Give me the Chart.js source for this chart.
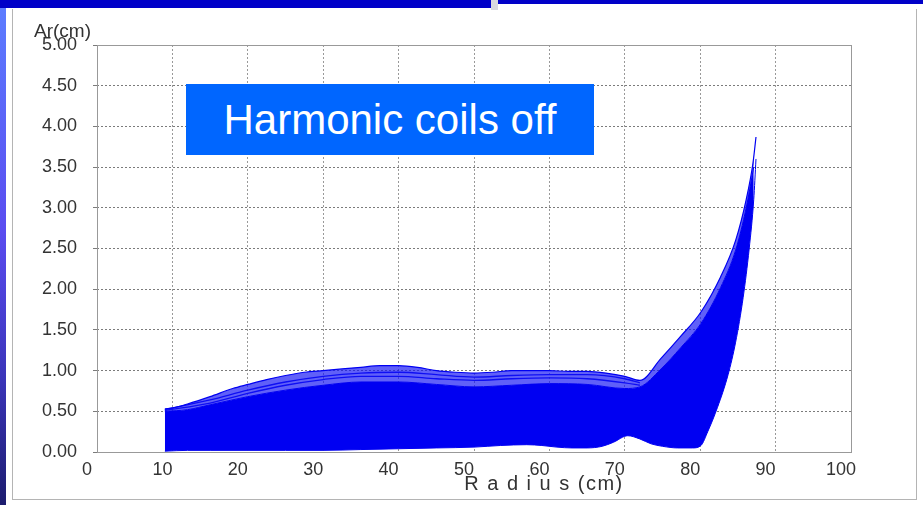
<!DOCTYPE html>
<html lang="en">
<head>
    <meta charset="UTF-8">
    <title>Harmonic coils off</title>
    <script src="https://cdn.jsdelivr.net/npm/chart.js"></script>
    <style>
        body {
            margin: 0;
            background: #fff;
            font-family: "Liberation Sans", Arial, sans-serif;
        }
        #wrap {
            position: relative;
            width: 923px;
            height: 505px;
            overflow: hidden;
            background: #fff;
        }
        #grafica {
            position: absolute;
            left: 0; top: 0;
        }
        .barraArriba1 { position: absolute; left: 0; top: 0; width: 491px; height: 8px; background: #0000c8; }
        .barraArriba2 { position: absolute; left: 498px; top: 0; width: 425px; height: 4px; background: #0000c8; }
        .separador { position: absolute; left: 491px; top: 0; width: 7px; height: 10px; background: #d8d8e0; }
        .barraIzq {
            position: absolute; left: 0; top: 8px; width: 6px; height: 497px;
            background: linear-gradient(#5c7cff, #5a4cf0 45%, #3a34b8 75%, #1c1c6e);
        }
        .marco {
            position: absolute; left: 12px; top: 9px; width: 903px; height: 490px;
            border: 1px solid #b4b4b4; border-top: none;
        }
        #etiqueta {
            position: absolute; left: 186px; top: 84px; width: 408px; height: 71px;
            background: #0066ff; color: #fff;
            font-size: 42px;
            display: flex; align-items: center; justify-content: center;
        }
        #tituloY {
            position: absolute; left: 34px; top: 20px;
            font-size: 19px; color: #333;
        }
        #tituloX {
            position: absolute; left: 444px; width: 200px; top: 472px;
            text-align: center; font-size: 20px; letter-spacing: 1.5px; color: #333;
        }
    </style>
</head>
<body>
<div id="wrap">
    <div class="marco"></div>
    <canvas id="grafica" width="923" height="505"></canvas>
    <div class="barraArriba1"></div>
    <div class="separador"></div>
    <div class="barraArriba2"></div>
    <div class="barraIzq"></div>
    <div id="tituloY">Ar(cm)</div>
    <div id="tituloX">R a d i u s (cm)</div>
    <div id="etiqueta">Harmonic coils off</div>
</div>

<script>
    // envolvente superior (trazas mas altas)
    const upperX = [9, 10, 12, 15, 18, 20, 22.5, 25, 27.5, 30, 32.5, 35, 37.5, 40, 42.5, 45, 47.5, 50, 52.5, 55, 57.5, 60, 62.5, 65, 67.5, 70, 72, 74.8, 77.4, 80.1, 82.7, 84.7, 86.1, 87, 87.4];
    const upperY = [0.53, 0.54, 0.59, 0.68, 0.78, 0.83, 0.89, 0.94, 0.98, 1.0, 1.02, 1.04, 1.06, 1.06, 1.04, 1.0, 0.98, 0.97, 0.98, 1.0, 1.0, 1.0, 0.99, 0.99, 0.97, 0.93, 0.88, 1.15, 1.42, 1.72, 2.15, 2.6, 3.1, 3.55, 3.87];

    // parte densa de la banda
    const solidX = [9, 12, 15, 20, 25, 30, 35, 40, 45, 50, 55, 60, 65, 70, 72, 74.8, 77.4, 80.1, 82.7, 84.7, 86.1, 87.1];
    const solidY = [0.5, 0.52, 0.58, 0.68, 0.76, 0.82, 0.86, 0.86, 0.83, 0.8, 0.82, 0.84, 0.83, 0.78, 0.8, 1.02, 1.28, 1.58, 2.02, 2.48, 3.0, 3.5];

    // envolvente inferior
    const lowerX = [9, 12, 15, 20, 25, 30, 35, 40, 45, 50, 53.5, 57, 59, 61, 63, 65, 67, 68.5, 70.4, 72, 73.5, 75, 77, 79, 80.1, 81, 82.3, 83.7, 84.7, 85.7, 86.5, 87.1, 87.4];
    const lowerY = [0.01, 0.02, 0.02, 0.02, 0.02, 0.02, 0.03, 0.04, 0.05, 0.06, 0.08, 0.09, 0.08, 0.06, 0.05, 0.05, 0.07, 0.12, 0.2, 0.16, 0.1, 0.07, 0.05, 0.05, 0.08, 0.25, 0.55, 0.95, 1.35, 1.9, 2.5, 3.1, 3.6];

    // algunas trazas sueltas en la zona alta
    const traceX = [9, 15, 20, 25, 30, 35, 40, 45, 50, 55, 60, 65, 70, 72];
    const traceB = [0.52, 0.64, 0.76, 0.86, 0.93, 0.97, 0.98, 0.95, 0.92, 0.94, 0.95, 0.95, 0.9, 0.85];
    const traceC = [0.51, 0.6, 0.72, 0.82, 0.89, 0.93, 0.93, 0.9, 0.88, 0.9, 0.91, 0.9, 0.85, 0.82];

    const xTicks = [0, 10, 20, 30, 40, 50, 60, 70, 80, 90, 100];
    const yTicks = [0, 0.5, 1, 1.5, 2, 2.5, 3, 3.5, 4, 4.5, 5];

    const azul = '#0000f2';

    function puntos(xs, ys) {
        return xs.map((x, i) => ({ x: x, y: ys[i] }));
    }

    const borde = {
        id: 'borde',
        afterDraw(chart) {
            const a = chart.chartArea;
            const c = chart.ctx;
            c.save();
            c.strokeStyle = '#999';
            c.lineWidth = 1;
            c.setLineDash([]);
            c.strokeRect(Math.round(a.left) + 0.5, Math.round(a.top) + 0.5, Math.round(a.width), Math.round(a.height));
            c.restore();
        }
    };

    const ctx = document.getElementById('grafica').getContext('2d');
    const grafica = new Chart(ctx, {
        type: 'line',
        data: {
            datasets: [
                { label: 'inferior', data: puntos(lowerX, lowerY), borderColor: azul, borderWidth: 1, fill: false },
                { label: 'densa', data: puntos(solidX, solidY), borderColor: azul, borderWidth: 1, fill: '-1', backgroundColor: azul },
                { label: 'superior', data: puntos(upperX, upperY), borderColor: azul, borderWidth: 1.2, fill: '-1', backgroundColor: 'rgba(20,20,245,0.68)' },
                { label: 'traza b', data: puntos(traceX, traceB), borderColor: azul, borderWidth: 1.3, fill: false },
                { label: 'traza c', data: puntos(traceX, traceC), borderColor: azul, borderWidth: 1.3, fill: false }
            ]
        },
        options: {
            responsive: false,
            animation: false,
            devicePixelRatio: 1,
            cubicInterpolationMode: 'monotone',
            elements: { point: { radius: 0 } },
            layout: { padding: { left: 17, top: 45, right: 72, bottom: 0 } },
            plugins: { legend: { display: false }, tooltip: { enabled: false } },
            scales: {
                x: {
                    type: 'linear',
                    min: 0, max: 100,
                    afterFit: s => { s.height = 53; },
                    afterBuildTicks: s => { s.ticks = xTicks.map(v => ({ value: v })); },
                    grid: { color: 'rgba(110,110,110,0.7)', drawTicks: false },
                    border: { display: false, dash: [2, 2] },
                    ticks: { color: '#333', font: { family: 'Liberation Sans', size: 18 }, padding: 7, labelOffset: -10, maxRotation: 0 }
                },
                y: {
                    min: 0, max: 5,
                    afterFit: s => { s.width = 80; },
                    afterBuildTicks: s => { s.ticks = yTicks.map(v => ({ value: v })); },
                    grid: { color: 'rgba(90,90,90,0.8)', tickLength: 4 },
                    border: { display: false, dash: [2, 2] },
                    ticks: { color: '#333', font: { family: 'Liberation Sans', size: 18 }, padding: 16, callback: v => v.toFixed(2) }
                }
            }
        },
        plugins: [borde]
    });
</script>
</body>
</html>
